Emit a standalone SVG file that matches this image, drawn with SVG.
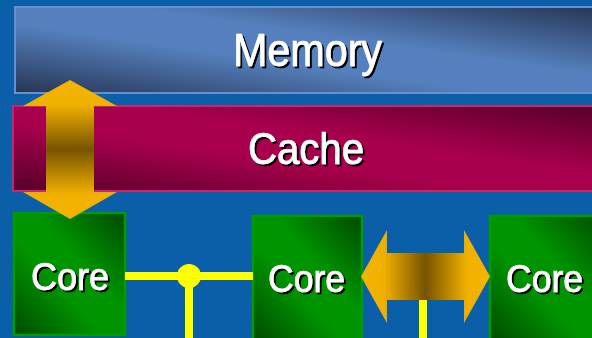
<svg xmlns="http://www.w3.org/2000/svg" width="592" height="338" viewBox="0 0 592 338">
<style>
.lbl{font-family:"Liberation Sans",Arial,sans-serif;fill:#ffffff;stroke:#ffffff;stroke-width:0.7;filter:url(#shadow);}
.bus{stroke:#ffff00;stroke-width:8;fill:none;}
</style>
<defs>
<filter id="shadow" x="-10%" y="-10%" width="130%" height="140%">
<feOffset in="SourceAlpha" dx="2" dy="2" result="off"/>
<feFlood flood-color="#000000"/>
<feComposite in2="off" operator="in" result="sh"/>
<feMerge><feMergeNode in="sh"/><feMergeNode in="SourceGraphic"/></feMerge>
</filter>
<linearGradient id="gMem" x1="0" y1="1" x2="1" y2="0">
<stop offset="0" stop-color="#263554"/>
<stop offset="0.4" stop-color="#5580bd"/>
<stop offset="0.6" stop-color="#5580bd"/>
<stop offset="1" stop-color="#263554"/>
</linearGradient>
<linearGradient id="gCache" x1="0" y1="1" x2="1" y2="0">
<stop offset="0" stop-color="#55002a"/>
<stop offset="0.4" stop-color="#a8004c"/>
<stop offset="0.6" stop-color="#a8004c"/>
<stop offset="1" stop-color="#55002a"/>
</linearGradient>
<linearGradient id="gCore" x1="0" y1="1" x2="1" y2="0">
<stop offset="0" stop-color="#004a00"/>
<stop offset="0.4" stop-color="#009400"/>
<stop offset="0.6" stop-color="#009400"/>
<stop offset="1" stop-color="#004a00"/>
</linearGradient>
<linearGradient id="gArrV" gradientUnits="userSpaceOnUse" x1="0" y1="80" x2="0" y2="219">
<stop offset="0" stop-color="#f5b400"/>
<stop offset="0.18" stop-color="#f0b000"/>
<stop offset="0.5" stop-color="#785400"/>
<stop offset="0.82" stop-color="#f0b000"/>
<stop offset="1" stop-color="#f5b400"/>
</linearGradient>
<linearGradient id="gArrH" gradientUnits="userSpaceOnUse" x1="361" y1="0" x2="490" y2="0">
<stop offset="0" stop-color="#f5b400"/>
<stop offset="0.18" stop-color="#f0b000"/>
<stop offset="0.5" stop-color="#785400"/>
<stop offset="0.82" stop-color="#f0b000"/>
<stop offset="1" stop-color="#f5b400"/>
</linearGradient>
</defs>
<rect x="0" y="0" width="592" height="338" fill="#0b5fa8"/>
<g id="memory">
<rect x="15" y="7" width="590" height="86" fill="url(#gMem)" stroke="#6a8fd0" stroke-width="2"/>
<text class="lbl" x="233" y="66" font-size="46" textLength="149" lengthAdjust="spacingAndGlyphs">Memory</text>
</g>
<g id="cache">
<rect x="13" y="106" width="590" height="85" fill="url(#gCache)" stroke="#c42a6a" stroke-width="2"/>
<text class="lbl" x="248" y="164" font-size="44" textLength="116" lengthAdjust="spacingAndGlyphs">Cache</text>
</g>
<g id="core1">
<rect x="14" y="213" width="111" height="122" fill="url(#gCore)" stroke="#009c00" stroke-width="2.5"/>
<text class="lbl" x="31" y="290" font-size="39" textLength="78" lengthAdjust="spacingAndGlyphs">Core</text>
</g>
<g id="core2">
<rect x="253" y="216" width="109" height="124" fill="url(#gCore)" stroke="#009c00" stroke-width="2.5"/>
<text class="lbl" x="268" y="292" font-size="39" textLength="77" lengthAdjust="spacingAndGlyphs">Core</text>
</g>
<g id="core3">
<rect x="490" y="216" width="115" height="124" fill="url(#gCore)" stroke="#009c00" stroke-width="2.5"/>
<text class="lbl" x="506" y="292" font-size="39" textLength="77" lengthAdjust="spacingAndGlyphs">Core</text>
</g>
<g id="connectors">
<line class="bus" x1="125" y1="276" x2="253" y2="276"/>
<line class="bus" x1="189" y1="276" x2="189" y2="338"/>
<circle cx="189" cy="276" r="12" fill="#ffff00"/>
<line class="bus" x1="423" y1="295" x2="423" y2="338"/>
<path d="M70,80 L117,106 L94,106 L94,192 L117,192 L70,219 L23,192 L46,192 L46,106 L23,106 Z" fill="url(#gArrV)"/>
<path d="M361,276.5 L387,230 L387,253 L464,253 L464,230 L490,276.5 L464,323 L464,300 L387,300 L387,323 Z" fill="url(#gArrH)"/>
</g>
</svg>
